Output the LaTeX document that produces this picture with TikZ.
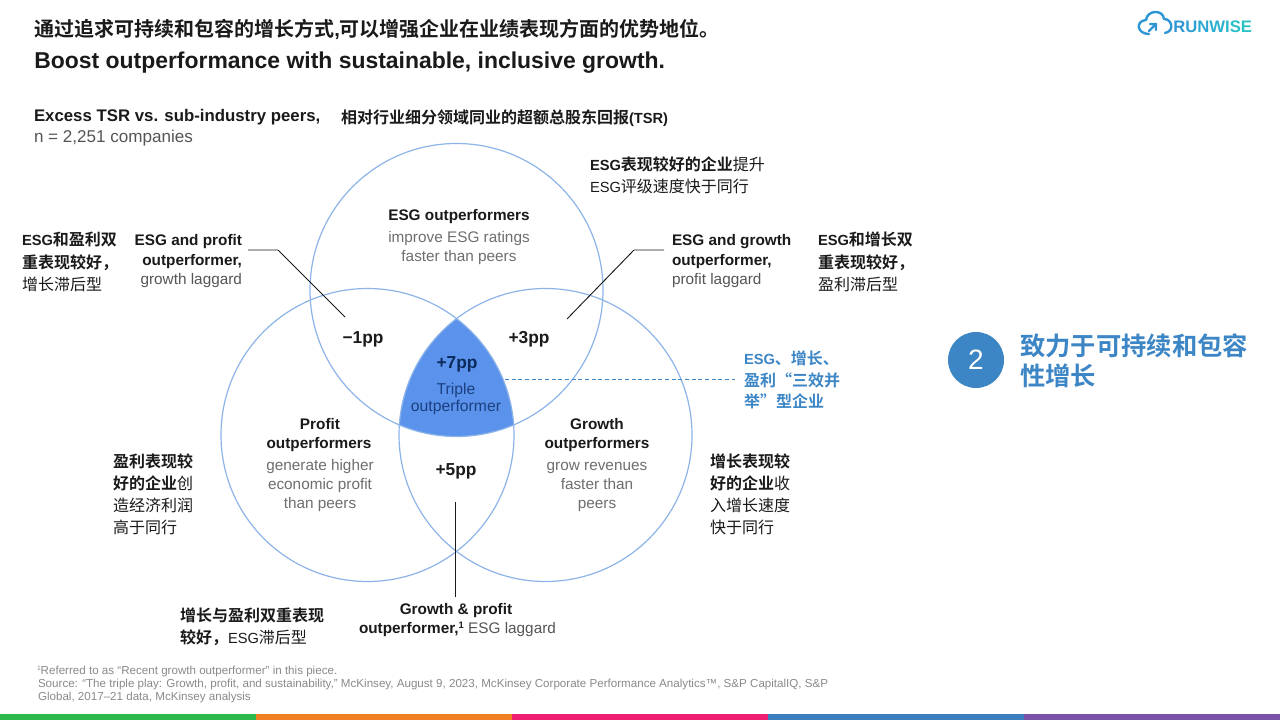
\documentclass[tikz,border=0pt]{standalone}
\usepackage{fontspec}
\setmainfont{Liberation Sans}
\newfontfamily\cjk{Noto Sans CJK SC}
\newfontfamily\cjkb{Noto Sans CJK SC Bold}
\newfontfamily\latr{Liberation Sans}
\newfontfamily\latb{Liberation Sans Bold}
\newcommand{\rl}[1]{{\latr\fontsize{11}{14}\selectfont #1}}
\newcommand{\bl}[1]{{\latb\fontsize{11}{14}\selectfont #1}}
\newcommand{\fwc}{\symbol{"FF0C}}
\definecolor{ringc}{HTML}{8DB4E8}
\definecolor{triple}{HTML}{5B93EC}
\definecolor{ink}{HTML}{1A1A1A}
\definecolor{soft}{HTML}{555555}
\definecolor{softb}{HTML}{6E6E6E}
\definecolor{navy}{HTML}{0B2A5C}
\definecolor{tripletext}{HTML}{1B3F7F}
\definecolor{accent}{HTML}{3D86C6}
\definecolor{foot}{HTML}{8A8A8A}
\definecolor{logoc}{HTML}{2F96D6}
\tikzset{
 ring/.style={draw=ringc,line width=0.9pt},
 lead/.style={draw=ink,line width=0.7pt},
 dashlead/.style={draw=accent,line width=0.6pt,densely dashed},
 lbl/.style={anchor=base west,inner sep=0pt,outer sep=0pt,text=ink,font=\fontsize{11.5}{14}\selectfont},
 ctr/.style={anchor=base,inner sep=0pt,outer sep=0pt,text=ink,font=\fontsize{11.5}{14}\selectfont},
 ctrg/.style={ctr,text=softb},
 pp/.style={ctr,font=\bfseries\fontsize{13}{15}\selectfont},
 cn/.style={anchor=base west,inner sep=0pt,outer sep=0pt,text=ink,font=\cjk\fontsize{12}{14}\selectfont},
 cnb/.style={cn,font=\cjkb\fontsize{12}{14}\selectfont},
 bluecn/.style={cnb,text=accent},
 footn/.style={anchor=base west,inner sep=0pt,outer sep=0pt,text=foot,font=\fontsize{8.7}{9}\selectfont},
}
\begin{document}
\begin{tikzpicture}[x=0.75pt,y=-0.75pt]
\useasboundingbox (0,0) rectangle (1280,720);
\fill[white] (0,0) rectangle (1280,720);
% triple region
\begin{scope}
\clip (456.5,290) circle[radius=146.5];
\clip (367.5,435) circle[radius=146.5];
\fill[triple] (545.5,435) circle[radius=146.5];
\end{scope}
\path[ring] (456.5,290) circle[radius=146.5];
\path[ring] (367.5,435) circle[radius=146.5];
\path[ring] (545.5,435) circle[radius=146.5];
% titles
\node[anchor=base west,inner sep=0pt,text=ink,font=\cjkb\fontsize{15}{17}\selectfont] (t1) at (34,37) {通过追求可持续和包容的增长方式{\latb\fontsize{15}{17}\selectfont ,}可以增强企业在业绩表现方面的优势地位。};
\node[anchor=base west,inner sep=0pt,text=ink,font=\bfseries\fontsize{17.2}{20}\selectfont] (t2) at (34,69) {Boost outperformance with sustainable, inclusive growth.};
\node[lbl,font=\bfseries\fontsize{12.6}{14}\selectfont] (h1) at (34,122) {Excess TSR vs. sub-industry peers,};
\node[lbl,text=soft,font=\fontsize{12.8}{14}\selectfont] (h2) at (34,143) {n = 2,251 companies};
\node[cnb] (h3) at (341,124) {相对行业细分领域同业的超额总股东回报\bl{(TSR)}};
% top right cn
\node[cnb] (a1) at (590,171) {\bl{ESG}表现较好的企业\cjk\fontsize{12}{14}\selectfont 提升};
\node[cn] (a2) at (590,193) {\rl{ESG}评级速度快于同行};
% circles text
\node[ctr,font=\bfseries\fontsize{11.5}{14}\selectfont] (e1) at (459,221) {ESG outperformers};
\node[ctrg] (e2) at (459,243) {improve ESG ratings};
\node[ctrg] (e3) at (459,262) {faster than peers};
% left labels
\node[cnb] (b1) at (22,246) {\bl{ESG}和盈利双};
\node[cnb] (b2) at (22,268) {重表现较好\fwc};
\node[cn] (b3) at (22,290) {增长滞后型};
\node[lbl,font=\bfseries\fontsize{11.5}{14}\selectfont,anchor=base east] (c1) at (242,246) {ESG and profit};
\node[lbl,font=\bfseries\fontsize{11.5}{14}\selectfont,anchor=base east] (c2) at (242,265) {outperformer,};
\node[lbl,text=soft,anchor=base east] (c3) at (242,284) {growth laggard};
% right labels
\node[lbl,font=\bfseries\fontsize{11.5}{14}\selectfont] (d1) at (672,246) {ESG and growth};
\node[lbl,font=\bfseries\fontsize{11.5}{14}\selectfont] (d2) at (672,265) {outperformer,};
\node[lbl,text=soft] (d3) at (672,284) {profit laggard};
\node[cnb] (f1) at (818,246) {\bl{ESG}和增长双};
\node[cnb] (f2) at (818,268) {重表现较好\fwc};
\node[cn] (f3) at (818,290) {盈利滞后型};
% leaders
\coordinate (l1a) at (248,250); \coordinate (l1b) at (278,250); \coordinate (l1c) at (345,317);
\draw[lead] (l1a) -- (l1b) -- (l1c);
\coordinate (l2a) at (664,250); \coordinate (l2b) at (634,250); \coordinate (l2c) at (567,319);
\draw[lead] (l2a) -- (l2b) -- (l2c);
\coordinate (l3a) at (455,502); \coordinate (l3b) at (455,597);
\draw[lead] (l3a) -- (l3b);
\coordinate (l4a) at (505,379); \coordinate (l4b) at (735,379);
\draw[dashlead] (l4a) -- (l4b);
% pp
\node[pp] (p1) at (363,343) {−1pp};
\node[pp] (p2) at (529,343) {+3pp};
\node[pp,text=navy] (p3) at (457,368) {+7pp};
\node[ctr,text=tripletext,font=\fontsize{11.8}{14}\selectfont] (p3a) at (456,394) {Triple};
\node[ctr,text=tripletext,font=\fontsize{11.8}{14}\selectfont] (p3b) at (456,411) {outperformer};
\node[pp] (p4) at (456,475) {+5pp};
% profit
\node[ctr,font=\bfseries\fontsize{11.5}{14}\selectfont] (g1) at (320,429) {Profit};
\node[ctr,font=\bfseries\fontsize{11.5}{14}\selectfont] (g2) at (319,448) {outperformers};
\node[ctrg] (g3) at (320,470) {generate higher};
\node[ctrg] (g4) at (320,489) {economic profit};
\node[ctrg] (g5) at (320,508) {than peers};
% growth
\node[ctr,font=\bfseries\fontsize{11.5}{14}\selectfont] (k1) at (597,429) {Growth};
\node[ctr,font=\bfseries\fontsize{11.5}{14}\selectfont] (k2) at (597,448) {outperformers};
\node[ctrg] (k3) at (597,470) {grow revenues};
\node[ctrg] (k4) at (597,489) {faster than};
\node[ctrg] (k5) at (597,508) {peers};
% cn left
\node[cnb] (m1) at (113,467) {盈利表现较};
\node[cnb] (m2) at (113,489) {好的企业\cjk\fontsize{12}{14}\selectfont 创};
\node[cn] (m3) at (113,511) {造经济利润};
\node[cn] (m4) at (113,533) {高于同行};
% cn right
\node[cnb] (n1) at (710,467) {增长表现较};
\node[cnb] (n2) at (710,489) {好的企业\cjk\fontsize{12}{14}\selectfont 收};
\node[cn] (n3) at (710,511) {入增长速度};
\node[cn] (n4) at (710,533) {快于同行};
% bottom
\node[cnb] (o1) at (180,621) {增长与盈利双重表现};
\node[cnb] (o2) at (180,643) {较好\fwc\cjk\fontsize{12}{14}\selectfont \rl{ESG}滞后型};
\node[ctr,font=\bfseries\fontsize{11.5}{14}\selectfont] (q1) at (456,614) {Growth \& profit};
\node[lbl] (q2) at (359,633) {\textbf{outperformer,}\raisebox{3.5pt}{\fontsize{7}{8}\selectfont\textbf{1}} \textcolor{soft}{ESG laggard}};
% blue cn
\node[bluecn] (r1) at (744,364) {\bl{ESG}、增长、};
\node[bluecn] (r2) at (744,386) {盈利“三效并};
\node[bluecn] (r3) at (744,407) {举”型企业};
% number
\node[circle,fill=accent,minimum size=42pt,inner sep=0pt,text=white,font=\fontsize{21}{24}\selectfont] (num) at (976,360) {2};
\node[anchor=base west,inner sep=0pt,text=accent,font=\cjkb\fontsize{19}{22}\selectfont] (s1) at (1020,355) {致力于可持续和包容};
\node[anchor=base west,inner sep=0pt,text=accent,font=\cjkb\fontsize{19}{22}\selectfont] (s2) at (1020,385) {性增长};
% footnotes
\node[footn] (u1) at (37,674) {\raisebox{3pt}{\fontsize{5}{6}\selectfont 1}Referred to as “Recent growth outperformer” in this piece.};
\node[footn] (u2) at (38,687) {Source: “The triple play: Growth, profit, and sustainability,” McKinsey, August 9, 2023, McKinsey Corporate Performance Analytics™, S\&P CapitalIQ, S\&P};
\node[footn] (u3) at (38,700) {Global, 2017–21 data, McKinsey analysis};
% bars
\fill[fill={rgb,255:red,45;green,184;blue,75}] (0,714) rectangle (256,720);
\fill[fill={rgb,255:red,240;green,127;blue,35}] (256,714) rectangle (512,720);
\fill[fill={rgb,255:red,239;green,31;blue,114}] (512,714) rectangle (768,720);
\fill[fill={rgb,255:red,60;green,127;blue,191}] (768,714) rectangle (1024,720);
\fill[fill={rgb,255:red,123;green,82;blue,168}] (1024,714) rectangle (1280,720);
% logo
\draw[draw=logoc,line width=1.8pt,line cap=round,line join=round]
 (1149,34) .. controls (1137,34) and (1135,21) .. (1146,20)
 .. controls (1147,10) and (1163,9) .. (1164,19)
 .. controls (1172,19) and (1175,31) .. (1165,33);
\draw[draw=logoc,line width=1.8pt,line cap=round,line join=round] (1149,31) -- (1156,24) (1150,24) -- (1156,24) -- (1156,30);
\node[anchor=base west,inner sep=0pt,font=\bfseries\fontsize{12.5}{15}\selectfont] (logo) at (1173,33) {\textcolor[HTML]{2F96D6}{R}\textcolor[HTML]{2E9FD4}{U}\textcolor[HTML]{2DA8D2}{N}\textcolor[HTML]{2CB0CF}{W}\textcolor[HTML]{2BB8CC}{I}\textcolor[HTML]{2ABEC8}{S}\textcolor[HTML]{2AC3C4}{E}};
\end{tikzpicture}
\end{document}
